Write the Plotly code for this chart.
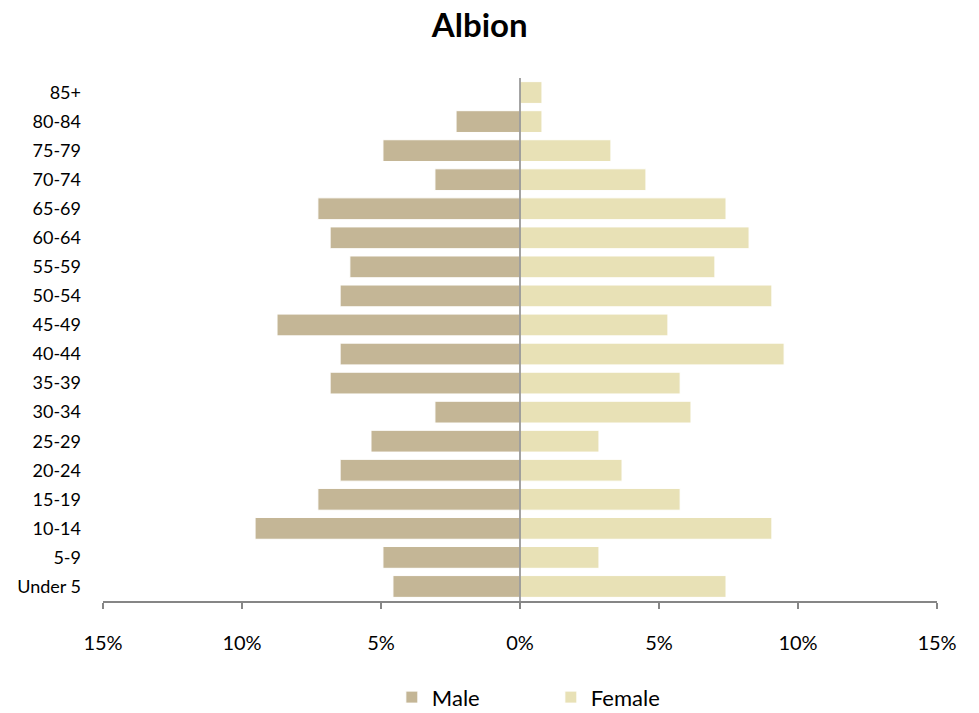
import plotly.graph_objects as go

age_groups = ["Under 5", "5-9", "10-14", "15-19", "20-24", "25-29", "30-34", "35-39",
              "40-44", "45-49", "50-54", "55-59", "60-64", "65-69", "70-74", "75-79",
              "80-84", "85+"]
male_pct = [4.57, 4.93, 9.53, 7.27, 6.47, 5.36, 3.06, 6.83,
            6.47, 8.74, 6.47, 6.12, 6.83, 7.27, 3.06, 4.93, 2.30, 0.0]
female_pct = [7.41, 2.84, 9.06, 5.76, 3.67, 2.84, 6.15, 5.76,
              9.50, 5.32, 9.06, 7.01, 8.24, 7.41, 4.53, 3.27, 0.79, 0.79]
tick_vals = [-15, -10, -5, 0, 5, 10, 15]
tick_text = ["15%", "10%", "5%", "0%", "5%", "10%", "15%"]

font_family = "Lato, 'Open Sans', sans-serif"

fig = go.Figure()
fig.add_trace(go.Bar(
    y=age_groups, x=[-v for v in male_pct], orientation="h", name="Male",
    marker=dict(color="#C4B696", line=dict(color="#FFFFFF", width=1)),
))
fig.add_trace(go.Bar(
    y=age_groups, x=female_pct, orientation="h", name="Female",
    marker=dict(color="#E8E1B6", line=dict(color="#FFFFFF", width=1)),
))

fig.add_shape(type="line", xref="x", yref="paper", x0=0, x1=0, y0=0, y1=1,
              line=dict(color="#868686", width=1.5), layer="above")

fig.update_layout(
    width=979, height=713,
    barmode="relative", bargap=0.25,
    plot_bgcolor="white", paper_bgcolor="white",
    margin=dict(l=103, r=42, t=78, b=112),
    title=dict(text="<b>Albion</b>", x=0.49, xanchor="center",
               yref="container", y=0.964, yanchor="middle",
               font=dict(family=font_family, size=33, color="black")),
    font=dict(family=font_family, size=18, color="black"),
    xaxis=dict(range=[-15, 15], tickvals=tick_vals, ticktext=tick_text,
               showgrid=False, zeroline=False, showline=True, linecolor="#868686",
               linewidth=1.5, ticks="outside", ticklen=6, tickcolor="#868686",
               tickwidth=1.5, ticklabelstandoff=17,
               tickfont=dict(family=font_family, size=20)),
    yaxis=dict(showgrid=False, zeroline=False, showline=False, ticks="",
               ticklabelstandoff=21, range=[-0.5, 17.5],
               tickfont=dict(family=font_family, size=18)),
    legend=dict(orientation="h", x=0.537, xanchor="center",
                yref="container", y=0.022, yanchor="middle",
                entrywidth=114, font=dict(family=font_family, size=22)),
    showlegend=True,
)

fig.write_html("out.html", config={"displayModeBar": False},
               post_script="document.body.style.margin='0';")
